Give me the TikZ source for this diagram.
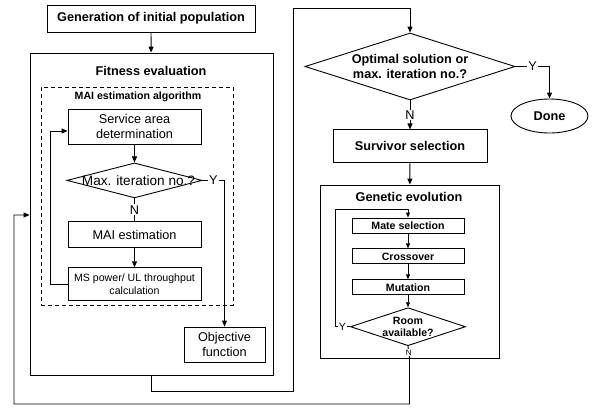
\documentclass[tikz,border=0pt]{standalone}
\usepackage{fontspec}
\setmainfont{Liberation Sans}
\usetikzlibrary{positioning,shapes.geometric,arrows.meta}

\newcommand{\fbig}{\fontsize{12.7pt}{15pt}\selectfont}
\newcommand{\fsml}{\fontsize{10.6pt}{12.5pt}\selectfont}
\newcommand{\ftny}{\fontsize{8pt}{9pt}\selectfont}

\tikzset{
    box/.style={draw, rectangle, align=center, inner sep=1pt, font=\fbig},
    frame/.style={draw, rectangle, inner sep=0pt},
    dia/.style={draw, diamond, inner sep=0pt},
    lbl/.style={fill=white, inner sep=1pt, font=\fbig},
}

\begin{document}
\begin{tikzpicture}[x=1pt, y=-1pt, line width=0.9pt,
        >={Triangle[length=6pt,width=5pt]}]
    \useasboundingbox (0,0) rectangle (593,408);

    % left part
    \node[box, font=\fbig\bfseries, minimum width=208pt, minimum height=27pt] (gen) at (151,18.5) {Generation of initial population};
    \node[frame, minimum width=243pt, minimum height=322pt] (fit) at (151.5,214) {};
    \node[font=\fbig\bfseries] (fitt) at (151,71) {Fitness evaluation};
    \node[frame, dash pattern=on 4pt off 3pt, minimum width=192pt, minimum height=218pt] (mai) at (137,196) {};
    \node[font=\fsml\bfseries] (mait) at (138,97) {MAI estimation algorithm};

    \node[box, minimum width=133pt, minimum height=35pt] (sad) at (134.5,126.5) {Service area\\determination};
    \node[dia, minimum width=135pt, minimum height=35pt, below=18pt of sad] (d1) {};
    \node[font=\fontsize{13.6pt}{15pt}\selectfont] (d1t) at ([xshift=4pt]d1.center) {Max. iteration no.?};
    \node[box, minimum width=133pt, minimum height=26pt, below=23pt of d1] (maie) {MAI estimation};
    \node[box, font=\fsml, minimum width=133pt, minimum height=33pt, below=19pt of maie] (msp) {MS power/ UL throughput\\calculation};
    \node[box, minimum width=81pt, minimum height=35pt] (obj) at (224.5,344.5) {Objective\\function};

    % right part
    \node[dia, minimum width=210pt, minimum height=67pt] (d2) at (410,66.5) {};
    \node[font=\fbig\bfseries, align=center] (d2t) at (d2) {Optimal solution or\\max. iteration no.?};
    \node[draw, ellipse, font=\fbig\bfseries, minimum width=77pt, minimum height=34pt, inner sep=0pt] (done) at (549.5,116) {Done};
    \node[box, font=\fbig\bfseries, minimum width=154pt, minimum height=33pt, below=29pt of d2] (surv) {Survivor selection};
    \node[frame, minimum width=179pt, minimum height=173pt] (ge) at (409.5,271.5) {};
    \node[font=\fbig\bfseries] (get) at (409,197) {Genetic evolution};

    \node[box, font=\fsml\bfseries, minimum width=112pt, minimum height=15pt] (mate) at (408,225.5) {Mate selection};
    \node[box, font=\fsml\bfseries, minimum width=112pt, minimum height=15pt, below=15pt of mate] (cross) {Crossover};
    \node[box, font=\fsml\bfseries, minimum width=112pt, minimum height=15pt, below=15pt of cross] (mut) {Mutation};
    \node[dia, minimum width=115pt, minimum height=38pt, below=12pt of mut] (d3) {};
    \node[font=\fsml\bfseries, align=center] (d3t) at (d3) {Room\\available?};

    \coordinate (lp) at (50,131);
    \coordinate (c1) at (293,391);
    \coordinate (c2) at (293,8);
    \coordinate (yl) at (335,209);
    \coordinate (c4) at (14,404);
    \coordinate (c5) at (14,215);

    % connectors
    \draw[->] (gen) -- (fit);
    \draw[->] (sad) -- (d1);
    \draw (d1.south) -- node[lbl]{N} (maie.north);
    \draw[->] (maie) -- (msp);
    \draw[->] (msp.west) -| (lp) -- (lp -| sad.west);
    \draw[->] (d1.east) -- node[lbl]{Y} (d1.east -| obj.north) -- (obj.north);
    \draw[->] (fit.south) |- (c1) -- (c2) -| (d2.north);
    \draw[->] (d2.east) -- node[lbl]{Y} (d2.east -| done.north) -- (done.north);
    \draw[->] (d2.south) -- node[lbl]{N} (surv.north);
    \draw[->] (surv) -- (ge);
    \begin{scope}[>={Triangle[length=5pt,width=4pt]}]
    \draw[->] (mate) -- (cross);
    \draw[->] (cross) -- (mut);
    \draw[->] (mut) -- (d3);
    \draw[->] (d3.west) -- node[lbl, font=\fsml]{Y} (d3.west -| yl) -- (yl) -| (mate.north);
    \end{scope}
    \draw[->] (d3.south) -- node[lbl, font=\ftny]{N} (ge.south) -- (ge.south |- c4) -- (c4) -- (c5) -- (c5 -| fit.west);
\end{tikzpicture}
\end{document}
